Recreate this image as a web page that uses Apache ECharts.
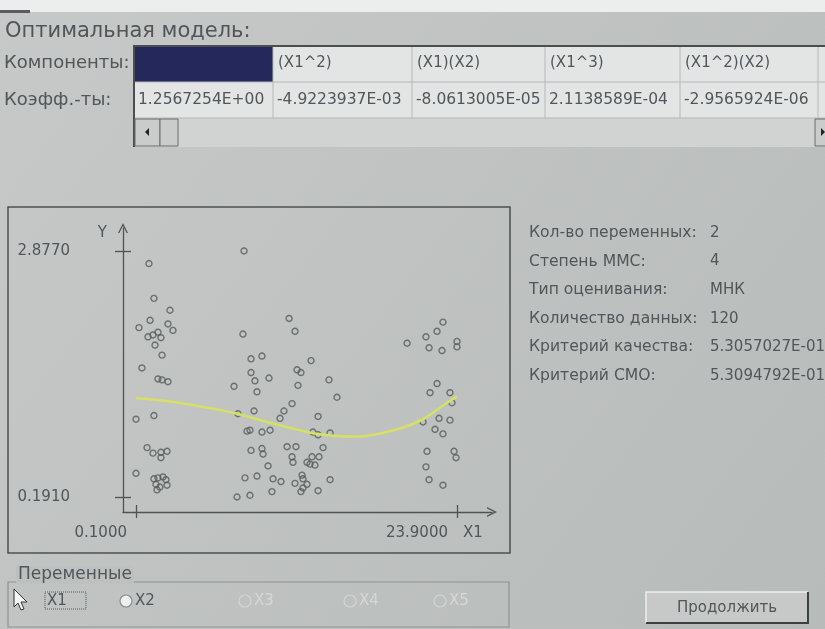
<!DOCTYPE html>
<html>
<head>
<meta charset="utf-8">
<title>Оптимальная модель</title>
<script src="https://cdn.jsdelivr.net/npm/echarts@6/dist/echarts.min.js"></script>
<style>
html, body { margin: 0; padding: 0; }
#chart { width: 825px; height: 629px; }
</style>
</head>
<body>
<div id="chart"></div>
<script>
// data
const leftGroup = [
  [1.06, 2.74], [1.43, 2.36], [2.62, 2.23], [1.14, 2.12], [2.47, 2.08], [0.32, 2.04],
  [2.84, 2.01], [1.73, 1.99], [1.36, 1.96], [0.99, 1.94], [1.95, 1.93], [1.51, 1.85],
  [2.03, 1.74], [0.54, 1.60], [1.73, 1.48], [2.03, 1.47], [2.47, 1.45], [0.10, 1.04],
  [1.43, 1.08], [0.92, 0.73], [1.36, 0.67], [1.95, 0.68], [2.40, 0.69], [1.95, 0.62],
  [0.10, 0.45], [1.43, 0.39], [1.73, 0.40], [2.10, 0.41], [2.32, 0.38], [1.58, 0.33],
  [1.87, 0.30], [2.40, 0.32], [1.66, 0.27]
]
const middleGroup = [
  [8.11, 2.877], [11.45, 2.14], [11.89, 2.00], [8.03, 1.97], [8.63, 1.70], [9.44, 1.73],
  [13.08, 1.68], [8.63, 1.55], [12.04, 1.58], [12.33, 1.55], [8.92, 1.46], [9.96, 1.49],
  [12.11, 1.41], [14.41, 1.47], [7.37, 1.40], [9.07, 1.34], [15.00, 1.28], [11.67, 1.21],
  [11.07, 1.13], [8.85, 1.13], [7.66, 1.10], [10.78, 1.05], [13.60, 1.07], [8.33, 0.91],
  [8.55, 0.92], [9.44, 0.90], [10.04, 0.92], [13.22, 0.90], [13.60, 0.87], [14.49, 0.89],
  [8.63, 0.70], [9.44, 0.72], [9.52, 0.66], [11.30, 0.74], [11.96, 0.74], [13.97, 0.73],
  [11.67, 0.63], [11.74, 0.57], [12.78, 0.57], [13.00, 0.55], [13.37, 0.54], [13.15, 0.63],
  [13.67, 0.63], [9.89, 0.53], [8.18, 0.40], [9.07, 0.42], [10.26, 0.39], [10.85, 0.36],
  [11.89, 0.34], [12.41, 0.43], [12.48, 0.39], [12.78, 0.33], [14.49, 0.38], [12.48, 0.29],
  [12.33, 0.25], [13.60, 0.26], [10.18, 0.25], [7.59, 0.191], [8.55, 0.21]
]
const rightGroup = [
  [22.86, 2.10], [22.42, 2.00], [21.60, 1.94], [20.20, 1.87], [23.90, 1.89], [23.90, 1.83],
  [21.83, 1.82], [22.79, 1.79], [22.42, 1.43], [21.90, 1.33], [23.38, 1.33], [23.53, 1.22],
  [21.38, 1.01], [22.57, 1.05], [23.38, 1.03], [22.27, 0.93], [22.86, 0.88], [21.68, 0.69],
  [23.68, 0.69], [23.83, 0.62], [21.60, 0.52], [21.83, 0.38], [22.86, 0.32]
]
const curveX1 = [0.1, 2.4, 4.85, 7.29, 9.81, 12.26, 13.52, 14.71, 15.97, 17.23, 19.68, 21.38, 22.86, 23.9]
const curveY = [1.27, 1.24, 1.18, 1.11, 1.01, 0.92, 0.88, 0.86, 0.85, 0.86, 0.94, 1.04, 1.19, 1.29]
const xTicks = [0.1, 23.9]
const yTicks = [0.191, 2.877]

const components = ['', '(X1^2)', '(X1)(X2)', '(X1^3)', '(X1^2)(X2)']
const coeffs = ['1.2567254E+00', '-4.9223937E-03', '-8.0613005E-05', '2.1138589E-04', '-2.9565924E-06']
const infoLabels = ['Кол-во переменных:', 'Степень ММС:', 'Тип оценивания:', 'Количество данных:', 'Критерий качества:', 'Критерий СМО:']
const infoValues = ['2', '4', 'МНК', '120', '5.3057027E-01', '5.3094792E-01']
const variables = ['X1', 'X2', 'X3', 'X4', 'X5']

const FONT = 'DejaVu Sans'
const INK = '#50565a'
const AXIS = '#4f5453'
const colEdges = [134, 273, 412, 545, 680, 818, 830]

function label(x, y, s, size, extra) {
  return {
    type: 'text', x: x, y: y, z: 5,
    style: Object.assign({
      text: s, fill: INK, fontSize: size, fontFamily: FONT,
      align: 'left', verticalAlign: 'middle'
    }, extra || {})
  }
}

const ui = []
// window background
ui.push({
  type: 'rect', z: -20, shape: { x: 0, y: 0, width: 825, height: 629 },
  style: { fill: new echarts.graphic.LinearGradient(0, 0, 1, 1, [
    { offset: 0, color: '#c6c9c7' }, { offset: 1, color: '#b7bbb9' }
  ]) }
})
ui.push({ type: 'rect', z: -19, shape: { x: 0, y: 0, width: 825, height: 12 }, style: { fill: '#eceeed' } })
ui.push({ type: 'rect', z: -18, shape: { x: 0, y: 10, width: 30, height: 3 }, style: { fill: '#5a5d5d' } })

ui.push(label(5, 32, 'Оптимальная модель:', 21))
ui.push(label(4, 63, 'Компоненты:', 18))
ui.push(label(4, 100, 'Коэфф.-ты:', 18))

// coefficient table
ui.push({ type: 'rect', z: -5, shape: { x: 134, y: 46, width: 700, height: 72 }, style: { fill: '#e2e5e4' } })
ui.push({ type: 'rect', z: -5, shape: { x: 134, y: 118, width: 700, height: 29 }, style: { fill: '#d0d3d2' } })
ui.push({ type: 'rect', z: -4, shape: { x: 134, y: 46, width: 139, height: 36 }, style: { fill: '#25285b' } })
colEdges.slice(1, 6).forEach(function (x) {
  ui.push({ type: 'line', z: -3, shape: { x1: x, y1: 46, x2: x, y2: 118 }, style: { stroke: '#b4b8b7', lineWidth: 1 } })
})
;[82, 118].forEach(function (y) {
  ui.push({ type: 'line', z: -3, shape: { x1: 134, y1: y, x2: 830, y2: y }, style: { stroke: '#b4b8b7', lineWidth: 1 } })
})
ui.push({ type: 'polyline', z: -2, shape: { points: [[134, 147], [134, 46], [830, 46]] }, style: { stroke: '#4b4e4e', lineWidth: 2, fill: null } })
components.forEach(function (c, i) {
  if (c) ui.push(label(colEdges[i] + 5, 63, c, 15))
})
coeffs.forEach(function (c, i) {
  ui.push(label(colEdges[i] + 4, 100, c, 15.5))
})
// scroll bar buttons
ui.push({ type: 'rect', z: -1, shape: { x: 135, y: 119, width: 25, height: 27 }, style: { fill: '#c9cccb', stroke: '#6a6d6d', lineWidth: 1 } })
ui.push({ type: 'polygon', z: 0, shape: { points: [[145, 132], [149, 128], [149, 136]] }, style: { fill: '#222' } })
ui.push({ type: 'rect', z: -1, shape: { x: 160, y: 119, width: 18, height: 27 }, style: { fill: '#c9cccb', stroke: '#6a6d6d', lineWidth: 1 } })
ui.push({ type: 'rect', z: -1, shape: { x: 815, y: 119, width: 14, height: 27 }, style: { fill: '#c9cccb', stroke: '#6a6d6d', lineWidth: 1 } })
ui.push({ type: 'polygon', z: 0, shape: { points: [[821, 128], [825, 132], [821, 136]] }, style: { fill: '#222' } })

// plot frame
ui.push({ type: 'rect', z: -1, shape: { x: 8, y: 207, width: 502, height: 346 }, style: { fill: null, stroke: '#4c5150', lineWidth: 1.5 } })

// model info panel
infoLabels.forEach(function (s, i) {
  const y = 233 + i * 28.6
  ui.push(label(529, y, s, 15.6))
  ui.push(label(710, y, infoValues[i], 15))
})

// variables group box
ui.push({ type: 'rect', z: -1, shape: { x: 8, y: 582, width: 501, height: 45 }, style: { fill: null, stroke: '#8d9190', lineWidth: 1.2 } })
ui.push(label(16, 575, 'Переменные', 17, { backgroundColor: '#bcc0be', padding: [0, 2, 0, 2] }))
const radioX = [40, 126, 245, 350, 440]
variables.forEach(function (v, i) {
  const enabled = i < 2
  if (i > 0) {
    ui.push({ type: 'circle', z: 3, shape: { cx: radioX[i], cy: 601, r: 6 },
      style: { fill: enabled ? '#eef0ef' : 'none', stroke: enabled ? '#8a8e8d' : '#d2d5d4', lineWidth: 1.2 } })
  }
  ui.push(label(radioX[i] + (i === 0 ? 7 : 9), 601, v, 15, { fill: enabled ? INK : '#d6d8d7' }))
})
ui.push({ type: 'rect', z: 3, shape: { x: 45, y: 592, width: 41, height: 17 }, style: { fill: null, stroke: '#555a5a', lineWidth: 1, lineDash: [1, 1] } })
ui.push({ type: 'polygon', z: 6, shape: { points: [[14, 589], [14, 607], [18, 603], [21, 610], [24, 609], [21, 602], [27, 602]] },
  style: { fill: '#f4f4f4', stroke: '#333', lineWidth: 1 } })

// continue button
ui.push({ type: 'rect', z: 2, shape: { x: 646, y: 592, width: 162, height: 31 }, style: { fill: '#c6c9c8' } })
ui.push({ type: 'polyline', z: 3, shape: { points: [[646, 623], [646, 592], [808, 592]] }, style: { stroke: '#eef0ef', lineWidth: 1.5, fill: null } })
ui.push({ type: 'polyline', z: 3, shape: { points: [[646, 623], [808, 623], [808, 592]] }, style: { stroke: '#3c3f3f', lineWidth: 2, fill: null } })
ui.push(label(727, 608, 'Продолжить', 15, { align: 'center' }))

const chart = echarts.init(document.getElementById('chart'))

const tickLabel = {
  color: INK, fontSize: 15, fontFamily: FONT,
  formatter: function (v) { return Number(v).toFixed(4) }
}
const arrow = 'path://M0,10 L5,0 L10,10 L8.6,10 L5,2.8 L1.4,10 Z'

chart.setOption({
  animation: false,
  grid: { left: 123, right: 333, top: 228, bottom: 117 },
  graphic: { elements: ui },
  xAxis: [{
    type: 'value', min: -0.864, max: 26.496, position: 'bottom',
    name: 'X1', nameLocation: 'end', nameGap: -29,
    nameTextStyle: { color: INK, fontSize: 15, fontFamily: FONT, align: 'left', verticalAlign: 'top', padding: [14, 0, 0, 0] },
    axisLine: { onZero: false, symbol: ['none', arrow], symbolSize: [12, 10], lineStyle: { color: AXIS, width: 1.3 } },
    axisTick: { customValues: xTicks, length: 6, lineStyle: { color: AXIS, width: 1.3 } },
    axisLabel: Object.assign({}, tickLabel, { customValues: xTicks, align: 'right', margin: 14, padding: [0, 9, 0, 0] }),
    splitLine: { show: false }
  }, {
    type: 'value', min: -0.864, max: 26.496, position: 'bottom',
    axisLine: { show: false, onZero: false },
    axisTick: { customValues: xTicks, inside: true, length: 7, lineStyle: { color: AXIS, width: 1.3 } },
    axisLabel: { show: false },
    splitLine: { show: false }
  }],
  yAxis: [{
    type: 'value', min: 0.0272, max: 3.128, position: 'left',
    name: 'Y', nameLocation: 'end', nameGap: -5,
    nameTextStyle: { color: INK, fontSize: 15, fontFamily: FONT, align: 'right', verticalAlign: 'middle', padding: [0, 16, 0, 0] },
    axisLine: { onZero: false, symbol: ['none', arrow], symbolSize: [12, 10], lineStyle: { color: AXIS, width: 1.3 } },
    axisTick: { customValues: yTicks, length: 8, lineStyle: { color: AXIS, width: 1.3 } },
    axisLabel: Object.assign({}, tickLabel, { customValues: yTicks, margin: 53 }),
    splitLine: { show: false }
  }, {
    type: 'value', min: 0.0272, max: 3.128, position: 'left',
    axisLine: { show: false, onZero: false },
    axisTick: { customValues: yTicks, inside: true, length: 8, lineStyle: { color: AXIS, width: 1.3 } },
    axisLabel: { show: false },
    splitLine: { show: false }
  }],
  series: [leftGroup, middleGroup, rightGroup].map(function (g) {
    return {
      type: 'scatter', data: g, symbol: 'circle', symbolSize: 6, z: 3,
      itemStyle: { color: 'rgba(0,0,0,0)', borderColor: '#555a5a', borderWidth: 1.4 }
    }
  }).concat([{
    type: 'line', data: curveX1.map(function (x, i) { return [x, curveY[i]] }),
    smooth: 0.4, showSymbol: false, z: 4,
    lineStyle: { color: '#d6df66', width: 2.6 }
  }])
})
</script>
</body>
</html>
